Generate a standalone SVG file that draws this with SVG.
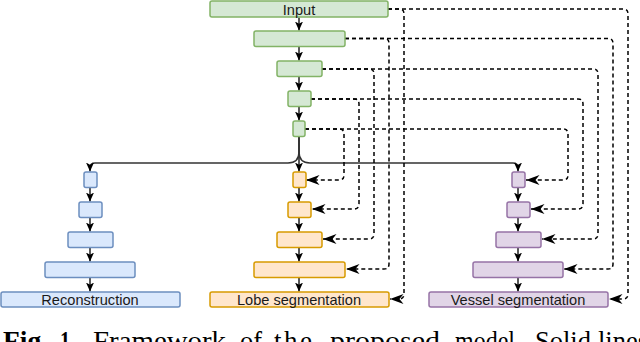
<svg xmlns="http://www.w3.org/2000/svg" width="640" height="342" viewBox="0 0 640 342">
<style>
.g{fill:#d5e8d4;stroke:#82b366;stroke-width:1.5}
.b{fill:#dae8fc;stroke:#6c8ebf;stroke-width:1.5}
.o{fill:#ffe6cc;stroke:#d79b00;stroke-width:1.5}
.p{fill:#e1d5e7;stroke:#9673a6;stroke-width:1.5}
.lbl{font-family:"Liberation Sans",Arial,sans-serif;font-size:14.6px;fill:#1a1a1a;text-anchor:middle}
.sol{fill:none;stroke:#000;stroke-width:1.3;marker-end:url(#sa)}
.spl{fill:none;stroke:#333;stroke-width:1.5}
.dash{fill:none;stroke:#000;stroke-width:1.5;stroke-dasharray:4 3;marker-end:url(#da)}
.cap{font-family:"Liberation Serif","Times New Roman",serif;font-size:27px;fill:#000}
</style>
<defs>
<marker id="sa" markerUnits="userSpaceOnUse" markerWidth="10" markerHeight="9" viewBox="0 0 10 9" refX="9" refY="4.5" orient="auto"><path d="M0,0.5 L9,4.5 L0,8.5 L2.2,4.5 Z" fill="#000"/></marker>
<marker id="da" markerUnits="userSpaceOnUse" markerWidth="14" markerHeight="12" viewBox="0 0 14 12" refX="13.5" refY="6" orient="auto"><path d="M0,1 L13.5,6 L0,11 L4,6 Z" fill="#000"/></marker>
</defs>
<g id="connectors">
<path class="sol" d="M299,17.5 V30.5"/>
<path class="sol" d="M299,46.5 V60.5"/>
<path class="sol" d="M299,76.5 V90.5"/>
<path class="sol" d="M299,106.5 V120.5"/>
<path class="sol" d="M299,136.5 V171.5"/>
<path class="spl" d="M299,137 V152 Q299,163 288,163 H95 Q90,163 90,168 V170"/>
<path class="sol" d="M90,166 V171.5"/>
<path class="spl" d="M299,137 V152 Q299,163 310,163 H513 Q518,163 518,168 V170"/>
<path class="sol" d="M518,166 V171.5"/>
<path class="sol" d="M90,187.5 V201.5"/>
<path class="sol" d="M90,217.5 V231.5"/>
<path class="sol" d="M90,247.5 V261.5"/>
<path class="sol" d="M90,277.5 V291.5"/>
<path class="sol" d="M299,187.5 V201.5"/>
<path class="sol" d="M299,217.5 V231.5"/>
<path class="sol" d="M299,247.5 V261.5"/>
<path class="sol" d="M299,277.5 V291.5"/>
<path class="sol" d="M518,187.5 V201.5"/>
<path class="sol" d="M518,217.5 V231.5"/>
<path class="sol" d="M518,247.5 V261.5"/>
<path class="sol" d="M518,277.5 V291.5"/>
<path class="dash" d="M388,9 H399 Q404,9 404,14 V294 Q404,299 399,299 H390"/>
<path class="dash" d="M388,9 H623 Q628,9 628,14 V294 Q628,299 623,299 H609"/>
<path class="dash" d="M345,38.5 H384 Q389,38.5 389,43.5 V264 Q389,269 384,269 H346"/>
<path class="dash" d="M345,38.5 H608 Q613,38.5 613,43.5 V264 Q613,269 608,269 H564"/>
<path class="dash" d="M322,69 H369 Q374,69 374,74 V234 Q374,239 369,239 H323"/>
<path class="dash" d="M322,69 H593 Q598,69 598,74 V234 Q598,239 593,239 H542"/>
<path class="dash" d="M311,99 H354 Q359,99 359,104 V204 Q359,209 354,209 H312"/>
<path class="dash" d="M311,99 H578 Q583,99 583,104 V204 Q583,209 578,209 H531"/>
<path class="dash" d="M305,129 H339 Q344,129 344,134 V175 Q344,180 339,180 H306"/>
<path class="dash" d="M305,129 H563 Q568,129 568,134 V175 Q568,180 563,180 H526"/>
</g>
<g id="enc1"><rect class="g" x="210" y="1" width="178" height="16" rx="2"/><text class="lbl" x="299" y="14.5">Input</text></g>
<g id="enc2"><rect class="g" x="254" y="31" width="91" height="15.5" rx="2"/></g>
<g id="enc3"><rect class="g" x="277" y="61" width="45" height="15.5" rx="2"/></g>
<g id="enc4"><rect class="g" x="288" y="91" width="23" height="15.5" rx="2"/></g>
<g id="enc5"><rect class="g" x="293" y="121" width="12" height="15.5" rx="2"/></g>
<g id="rec1"><rect class="b" x="84" y="172" width="13" height="15.5" rx="2"/></g>
<g id="rec2"><rect class="b" x="79" y="202" width="23" height="15.5" rx="2"/></g>
<g id="rec3"><rect class="b" x="68" y="232" width="45" height="15.5" rx="2"/></g>
<g id="rec4"><rect class="b" x="45" y="262" width="90" height="15.5" rx="2"/></g>
<g id="rec5"><rect class="b" x="1" y="292" width="179" height="15" rx="2"/><text class="lbl" x="90" y="304.5">Reconstruction</text></g>
<g id="lobe1"><rect class="o" x="293" y="172" width="13" height="15.5" rx="2"/></g>
<g id="lobe2"><rect class="o" x="288" y="202" width="23" height="15.5" rx="2"/></g>
<g id="lobe3"><rect class="o" x="277" y="232" width="45" height="15.5" rx="2"/></g>
<g id="lobe4"><rect class="o" x="254" y="262" width="91" height="15.5" rx="2"/></g>
<g id="lobe5"><rect class="o" x="210" y="292" width="179" height="15" rx="2"/><text class="lbl" x="299" y="304.5">Lobe segmentation</text></g>
<g id="ves1"><rect class="p" x="512" y="172" width="13" height="15.5" rx="2"/></g>
<g id="ves2"><rect class="p" x="507" y="202" width="23" height="15.5" rx="2"/></g>
<g id="ves3"><rect class="p" x="496" y="232" width="45" height="15.5" rx="2"/></g>
<g id="ves4"><rect class="p" x="473" y="262" width="90" height="15.5" rx="2"/></g>
<g id="ves5"><rect class="p" x="429" y="292" width="179" height="15" rx="2"/><text class="lbl" x="518" y="304.5">Vessel segmentation</text></g>
<g id="caption" class="cap">
<text x="3" y="350" font-weight="bold" textLength="45" lengthAdjust="spacingAndGlyphs">Fig.</text>
<text x="60" y="350" font-weight="bold" textLength="15" lengthAdjust="spacingAndGlyphs">1.</text>
<text x="93" y="350" textLength="133" lengthAdjust="spacingAndGlyphs">Framework</text>
<text x="240" y="350" textLength="22" lengthAdjust="spacingAndGlyphs">of</text>
<text x="274" y="350" letter-spacing="2.5">the</text>
<text x="330" y="350" textLength="110" lengthAdjust="spacingAndGlyphs">proposed</text>
<text x="455" y="350" textLength="66" lengthAdjust="spacingAndGlyphs">model.</text>
<text x="535" y="350" textLength="56" lengthAdjust="spacingAndGlyphs">Solid</text>
<text x="598" y="350" textLength="50" lengthAdjust="spacingAndGlyphs">lines</text>
</g>
</svg>
